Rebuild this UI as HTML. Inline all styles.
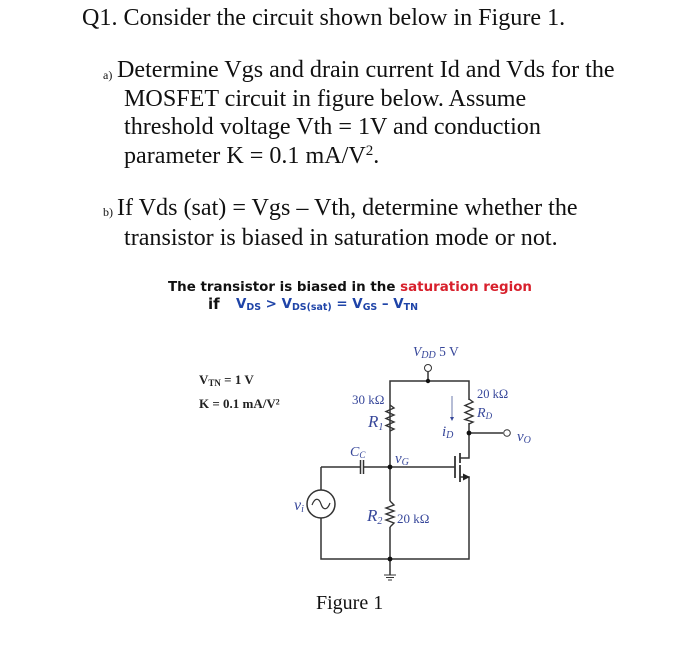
<!DOCTYPE html>
<html>
<head>
<meta charset="utf-8">
<style>
html,body{margin:0;padding:0;background:#fff}
svg{display:block}
.t{font-family:"Liberation Serif",serif;font-size:24.1px;fill:#111}
.s{font-family:"Liberation Serif",serif;font-size:12px;fill:#111}
.b{font-family:"DejaVu Sans",sans-serif;font-weight:bold;font-size:13.5px;fill:#111}
.bl{font-family:"DejaVu Sans",sans-serif;font-weight:bold;fill:#1f44a8}
.k{font-family:"Liberation Serif",serif;font-weight:bold;font-size:13px;fill:#222}
.c{font-family:"Liberation Serif",serif;fill:#37479a}
.i{font-style:italic}
</style>
</head>
<body>
<svg width="700" height="656" viewBox="0 0 700 656" xmlns="http://www.w3.org/2000/svg">
<rect width="700" height="656" fill="#fff"/>
<text class="t" x="82" y="25">Q1. Consider the circuit shown below in Figure 1.</text>
<text class="s" x="103" y="79">a)</text>
<text class="t" x="117" y="77">Determine Vgs and drain current Id and Vds for the</text>
<text class="t" x="124" y="106">MOSFET circuit in figure below. Assume</text>
<text class="t" x="124" y="134">threshold voltage Vth = 1V and conduction</text>
<text class="t" x="124" y="163">parameter K = 0.1 mA/V<tspan font-size="15" dy="-8">2</tspan><tspan dy="8">.</tspan></text>
<text class="s" x="103" y="216">b)</text>
<text class="t" x="117" y="215">If Vds (sat) = Vgs – Vth, determine whether the</text>
<text class="t" x="124" y="245">transistor is biased in saturation mode or not.</text>

<text class="b" x="168" y="291" textLength="364" lengthAdjust="spacingAndGlyphs">The transistor is biased in the <tspan fill="#d8202c">saturation region</tspan></text>
<text class="b" x="208" y="309" style="font-size:15px">if</text>
<text class="bl" x="236" y="308" font-size="13.500" textLength="182" lengthAdjust="spacingAndGlyphs">V<tspan font-size="9.500" dy="2">DS</tspan><tspan dy="-2"> &gt; V</tspan><tspan font-size="9.500" dy="2">DS(sat)</tspan><tspan dy="-2"> = V</tspan><tspan font-size="9.500" dy="2">GS</tspan><tspan dy="-2"> – V</tspan><tspan font-size="9.500" dy="2">TN</tspan></text>

<text class="k" x="199" y="384">V<tspan font-size="9" dy="2">TN</tspan><tspan dy="-2"> = 1 V</tspan></text>
<text class="k" x="199" y="408">K = 0.1 mA/V²</text>

<g fill="none" stroke="#333" stroke-width="1.5">
<circle cx="428" cy="368" r="3.5" stroke-width="1"/>
<path d="M428 372V381M390 467V381H469V400M469 423V458H460M390 431V408"/>
<polyline stroke-width="1.4" points="390,405 394,408 386,411.500 394,415 386,418.500 394,422 386,425.500 394,429 390,431"/>
<polyline stroke-width="1.4" points="469,399 473,402 465,405.500 473,409 465,412.500 473,416 465,419.500 473,422 469,424"/>
<path d="M469 433H503"/>
<circle cx="507" cy="433" r="3.300" stroke-width="1"/>
<path d="M321 467H360M363 467H455M360.500 460V474M363.500 460V474"/>
<path d="M455 456V478" stroke-width="1.800"/>
<path d="M460 453V463M460 465V475M460 475V482" stroke-width="1.800"/>
<path d="M460 477H469V559H321V518M321 490V467"/>
<circle cx="321" cy="504" r="14"/>
<path d="M312 505C315 497 319 498 321 504C323 510 327 511 330 503" stroke-width="1.200"/>
<path d="M390 467V501M390 527V575"/>
<polyline stroke-width="1.400" points="390,501 394,505 386,508 394,511 386,514 394,517 386,520 394,523 390,527"/>
<path d="M384 575H396M386 577.500H394M388 580H392" stroke-width="1"/>
<path d="M452 396V417" stroke="#4a5a99" stroke-width="0.800"/>
</g>
<path d="M450 417h4l-2 4z" fill="#37479a"/>
<path d="M463 473.500l7 3.500-7 3.500z" fill="#222"/>
<g fill="#111">
<circle cx="428" cy="381" r="2.200"/>
<circle cx="469" cy="433" r="2.400"/>
<circle cx="390" cy="467" r="2.400"/>
<circle cx="390" cy="559" r="2.400"/>
</g>

<text class="c" x="413" y="356" font-size="13.500"><tspan class="i">V</tspan><tspan class="i" font-size="10" dy="2">DD</tspan><tspan dy="-2"> 5 V</tspan></text>
<text class="c" x="352" y="404" font-size="13">30 kΩ</text>
<text class="c" x="477" y="398" font-size="12.500">20 kΩ</text>
<text class="c i" x="368" y="427" font-size="17">R<tspan font-size="10" dy="3">1</tspan></text>
<text class="c i" x="477" y="417" font-size="14">R<tspan font-size="9" dy="2">D</tspan></text>
<text class="c i" x="442" y="436" font-size="15">i<tspan font-size="10" dy="2">D</tspan></text>
<text class="c i" x="517" y="441" font-size="15">v<tspan font-size="10" dy="2">O</tspan></text>
<text class="c i" x="350" y="456" font-size="14">C<tspan font-size="9" dy="2">C</tspan></text>
<text class="c i" x="395" y="463" font-size="15">v<tspan font-size="10" dy="2">G</tspan></text>
<text class="c i" x="294" y="510" font-size="16">v<tspan font-size="10" dy="2">i</tspan></text>
<text class="c i" x="367" y="521" font-size="17">R<tspan font-size="10" dy="3">2</tspan></text>
<text class="c" x="397" y="523" font-size="13">20 kΩ</text>

<text class="t" x="316" y="609" style="font-size:20px">Figure 1</text>
</svg>
</body>
</html>
